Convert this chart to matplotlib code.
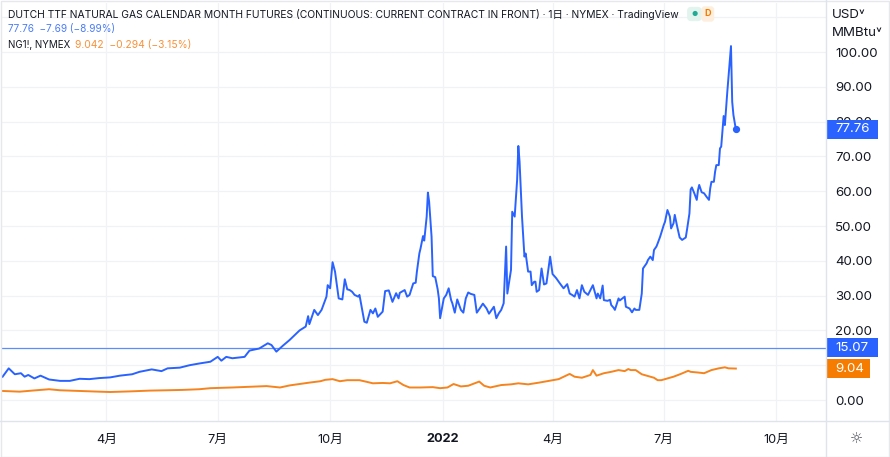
import matplotlib
matplotlib.use("Agg")
import matplotlib.pyplot as plt
import matplotlib.transforms as mtransforms
from matplotlib.patches import Rectangle
from matplotlib.lines import Line2D
import pandas as pd

FAM = ['Inter', 'Noto Sans CJK JP', 'DejaVu Sans']
plt.rcParams['font.family'] = FAM

# ---------------- data ----------------
ttf_dates = [
    "2021-01-06", "2021-01-11", "2021-01-16", "2021-01-21", "2021-01-24", "2021-01-27", "2021-02-01",
    "2021-02-06", "2021-02-13", "2021-02-22", "2021-03-02", "2021-03-10", "2021-03-18", "2021-03-26",
    "2021-04-04", "2021-04-12", "2021-04-22", "2021-04-28", "2021-05-08", "2021-05-16", "2021-05-21",
    "2021-05-31", "2021-06-08", "2021-06-16", "2021-06-25", "2021-07-01", "2021-07-04", "2021-07-08",
    "2021-07-13", "2021-07-23", "2021-07-27", "2021-08-04", "2021-08-11", "2021-08-14", "2021-08-18",
    "2021-08-23", "2021-08-29", "2021-09-06", "2021-09-11", "2021-09-13", "2021-09-14", "2021-09-18",
    "2021-09-21", "2021-09-24", "2021-09-28", "2021-09-29", "2021-10-01", "2021-10-03", "2021-10-05",
    "2021-10-08", "2021-10-11", "2021-10-13", "2021-10-15", "2021-10-17", "2021-10-19", "2021-10-21",
    "2021-10-24", "2021-10-25", "2021-10-29", "2021-10-31", "2021-11-03", "2021-11-05", "2021-11-07",
    "2021-11-09", "2021-11-13", "2021-11-15", "2021-11-18", "2021-11-21", "2021-11-24", "2021-11-26",
    "2021-11-27", "2021-12-01", "2021-12-03", "2021-12-05", "2021-12-08", "2021-12-10", "2021-12-11",
    "2021-12-13", "2021-12-14", "2021-12-16", "2021-12-17", "2021-12-19", "2021-12-20", "2021-12-21",
    "2021-12-23", "2021-12-24", "2021-12-26", "2021-12-28", "2021-12-29", "2021-12-30", "2022-01-02",
    "2022-01-04", "2022-01-06", "2022-01-08", "2022-01-09", "2022-01-11", "2022-01-13", "2022-01-16",
    "2022-01-18", "2022-01-20", "2022-01-22", "2022-01-24", "2022-01-27", "2022-01-29", "2022-01-31",
    "2022-02-03", "2022-02-06", "2022-02-08", "2022-02-12", "2022-02-14", "2022-02-16", "2022-02-18",
    "2022-02-20", "2022-02-22", "2022-02-23", "2022-02-26", "2022-02-27", "2022-03-01", "2022-03-03",
    "2022-03-04", "2022-03-05", "2022-03-07", "2022-03-09", "2022-03-10", "2022-03-12", "2022-03-14",
    "2022-03-15", "2022-03-17", "2022-03-18", "2022-03-19", "2022-03-21", "2022-03-23", "2022-03-25",
    "2022-03-27", "2022-03-30", "2022-04-01", "2022-04-04", "2022-04-07", "2022-04-10", "2022-04-13",
    "2022-04-15", "2022-04-17", "2022-04-19", "2022-04-21", "2022-04-23", "2022-04-25", "2022-04-27",
    "2022-04-30", "2022-05-04", "2022-05-07", "2022-05-08", "2022-05-10", "2022-05-12", "2022-05-13",
    "2022-05-16", "2022-05-18", "2022-05-19", "2022-05-21", "2022-05-22", "2022-05-25", "2022-05-26",
    "2022-05-30", "2022-05-31", "2022-06-03", "2022-06-05", "2022-06-07", "2022-06-08", "2022-06-11",
    "2022-06-13", "2022-06-14", "2022-06-17", "2022-06-18", "2022-06-20", "2022-06-22", "2022-06-23",
    "2022-06-25", "2022-06-26", "2022-06-28", "2022-07-01", "2022-07-02", "2022-07-04", "2022-07-06",
    "2022-07-07", "2022-07-09", "2022-07-10", "2022-07-12", "2022-07-14", "2022-07-16", "2022-07-19",
    "2022-07-20", "2022-07-22", "2022-07-23", "2022-07-24", "2022-07-26", "2022-07-28", "2022-07-29",
    "2022-07-30", "2022-08-01", "2022-08-03", "2022-08-05", "2022-08-07", "2022-08-08", "2022-08-09",
    "2022-08-11", "2022-08-12", "2022-08-13", "2022-08-15", "2022-08-16", "2022-08-17", "2022-08-19",
    "2022-08-20", "2022-08-22", "2022-08-25", "2022-08-26", "2022-08-27", "2022-08-29",
]
ttf_values = [
    6.7, 9.1, 7.4, 7.7, 6.7, 7.2, 6.2,
    7.0, 5.9, 5.5, 5.5, 6.1, 6.0, 6.3,
    6.5, 7.0, 7.4, 8.1, 8.8, 8.3, 9.1,
    9.3, 10.0, 10.5, 11.0, 12.4, 11.3, 12.4,
    12.0, 12.4, 14.2, 14.8, 16.3, 15.8, 13.9,
    15.5, 17.3, 20.0, 21.1, 24.1, 21.8, 25.9,
    24.4, 25.9, 29.7, 33.0, 32.1, 39.6, 36.9,
    29.2, 28.9, 34.7, 31.8, 31.6, 31.1, 30.2,
    29.7, 30.2, 22.5, 22.2, 25.9, 24.9, 26.3,
    23.9, 25.4, 31.3, 31.5, 28.2, 30.7, 29.2,
    30.8, 31.6, 29.7, 30.2, 33.5, 33.7, 36.9,
    42.1, 43.6, 47.1, 45.8, 52.7, 59.6, 57.0,
    46.9, 35.6, 35.3, 31.8, 29.2, 23.5, 29.2,
    30.2, 32.1, 28.7, 27.8, 25.1, 28.9, 25.9,
    25.1, 29.2, 30.9, 30.5, 30.2, 25.1, 26.1,
    27.7, 26.3, 24.8, 26.8, 23.5, 24.9, 25.9,
    27.8, 44.1, 30.6, 37.4, 54.1, 52.7, 63.2,
    73.0, 68.5, 52.7, 41.2, 42.1, 36.9, 36.9,
    33.0, 34.0, 34.0, 31.1, 31.6, 37.8, 33.2,
    33.5, 41.2, 36.2, 35.0, 33.5, 32.1, 33.3,
    30.6, 30.2, 29.7, 31.6, 29.2, 33.0, 31.1,
    30.2, 33.0, 29.2, 30.6, 29.2, 32.9, 28.7,
    28.5, 28.8, 27.3, 26.5, 25.9, 29.2, 28.6,
    29.7, 26.8, 26.3, 25.2, 26.3, 25.9, 25.9,
    30.6, 37.8, 39.3, 40.2, 41.2, 40.2, 43.1,
    44.1, 45.0, 46.9, 50.3, 51.2, 54.6, 52.7,
    49.3, 50.8, 53.2, 49.8, 46.7, 46.0, 46.7,
    48.9, 53.6, 60.5, 61.1, 59.4, 57.5, 60.3,
    61.8, 59.7, 59.4, 58.4, 57.5, 60.8, 62.7,
    62.7, 65.6, 67.5, 67.5, 72.3, 72.8, 81.6,
    79.0, 88.6, 101.7, 85.7, 81.9, 77.76,
]

ng_dates = [
    "2021-01-06", "2021-01-20", "2021-01-30", "2021-02-13", "2021-02-22", "2021-03-10", "2021-03-26",
    "2021-04-04", "2021-04-22", "2021-05-06", "2021-05-20", "2021-06-02", "2021-06-16", "2021-06-25",
    "2021-07-13", "2021-07-27", "2021-08-10", "2021-08-21", "2021-08-29", "2021-09-06", "2021-09-14",
    "2021-09-23", "2021-09-27", "2021-10-03", "2021-10-09", "2021-10-15", "2021-10-25", "2021-10-30",
    "2021-11-05", "2021-11-13", "2021-11-19", "2021-11-25", "2021-11-30", "2021-12-05", "2021-12-14",
    "2021-12-24", "2021-12-30", "2022-01-05", "2022-01-10", "2022-01-16", "2022-01-22", "2022-01-31",
    "2022-02-04", "2022-02-09", "2022-02-18", "2022-02-26", "2022-03-04", "2022-03-12", "2022-03-21",
    "2022-03-29", "2022-04-06", "2022-04-15", "2022-04-19", "2022-04-25", "2022-05-02", "2022-05-04",
    "2022-05-07", "2022-05-13", "2022-05-19", "2022-05-25", "2022-05-30", "2022-06-02", "2022-06-04",
    "2022-06-08", "2022-06-13", "2022-06-18", "2022-06-23", "2022-06-26", "2022-06-29", "2022-07-04",
    "2022-07-09", "2022-07-15", "2022-07-21", "2022-07-23", "2022-07-29", "2022-08-03", "2022-08-09",
    "2022-08-15", "2022-08-20", "2022-08-23", "2022-08-29",
]
ng_values = [
    2.6, 2.4, 2.7, 3.1, 2.8, 2.6, 2.4,
    2.3, 2.5, 2.7, 2.8, 2.9, 3.1, 3.4,
    3.6, 3.8, 4.0, 3.6, 4.2, 4.6, 5.0,
    5.4, 5.8, 6.0, 5.4, 5.7, 5.7, 5.3,
    4.8, 4.9, 4.8, 5.4, 4.3, 3.6, 3.6,
    3.7, 3.4, 3.6, 4.6, 3.9, 4.1, 5.3,
    4.1, 3.6, 4.3, 4.5, 4.8, 4.5, 5.0,
    5.5, 6.0, 7.5, 6.7, 6.4, 7.2, 8.6,
    7.0, 7.7, 8.1, 8.6, 8.3, 8.9, 8.6,
    8.6, 7.4, 6.9, 6.4, 5.7, 5.7, 6.2,
    6.7, 7.5, 8.4, 8.1, 7.9, 7.7, 8.6,
    9.1, 9.4, 9.1, 9.04,
]

ref_line_value = 15.07
ttf_last, ng_last = 77.76, 9.04
y_ticks = [0, 10, 20, 30, 40, 50, 60, 70, 80, 90, 100]
hidden_y_labels = [10]          # fully covered by the price labels in the reference
x_tick_dates = ["2021-04-01", "2021-07-01", "2021-10-01", "2022-01-01", "2022-04-01", "2022-07-01", "2022-10-01"]
x_tick_labels = ["4月", "7月", "10月", "2022", "4月", "7月", "10月"]
view_start, view_end = "2021-01-05 12:00", "2022-11-10 18:00"

title = "DUTCH TTF NATURAL GAS CALENDAR MONTH FUTURES (CONTINUOUS: CURRENT CONTRACT IN FRONT) · 1日 · NYMEX · TradingView"
ttf_legend = "77.76  −7.69 (−8.99%)"
ng_name = "NG1!, NYMEX"
ng_legend = "9.042  −0.294 (−3.15%)"

BLUE = '#2962ff'
ORANGE = '#f5841f'
TXT = '#131722'
GRID = '#f0f2f6'
SEP = '#e0e3eb'

# ---------------- figure ----------------
W, H = 890, 457
fig = plt.figure(figsize=(W / 100, H / 100), dpi=100)
fig.patch.set_facecolor('white')

def fx(p):
    return p / W

def fy(p):
    return 1 - p / H

L, R, T, B = 2, 826, 3, 421
ax = fig.add_axes([fx(L), fy(B), (R - L) / W, (B - T) / H])
ax.set_facecolor('white')

td = pd.to_datetime(ttf_dates)
nd = pd.to_datetime(ng_dates)

YMIN, YMAX = -6.03, 114.08
ax.set_xlim(pd.Timestamp(view_start), pd.Timestamp(view_end))
ax.set_ylim(YMIN, YMAX)

ax.set_yticks(y_ticks)
ax.set_yticks([110], minor=True)
ax.set_yticklabels(["" if v in hidden_y_labels else f"{v:.2f}" for v in y_ticks])
ax.yaxis.tick_right()
ax.tick_params(axis='y', which='both', length=0, pad=6.5, labelsize=9.6, labelcolor=TXT)

ax.set_xticks(pd.to_datetime(x_tick_dates))
ax.set_xticklabels(x_tick_labels)
ax.tick_params(axis='x', length=0, pad=9, labelsize=9.2, labelcolor=TXT)
for lab in ax.get_xticklabels():
    if lab.get_text() == "2022":
        lab.set_fontweight('bold')

ax.grid(True, which='both', color=GRID, lw=0.9)
ax.set_axisbelow(True)
for s in ax.spines.values():
    s.set_visible(False)

# reference line
ax.axhline(ref_line_value, color='#5b8dfb', lw=0.9, zorder=2)

ax.plot(td, ttf_values, color=BLUE, lw=1.4, zorder=4, solid_joinstyle='round')
ax.plot(nd, ng_values, color=ORANGE, lw=1.4, zorder=3, solid_joinstyle='round')
ax.plot(td[-1:], ttf_values[-1:], 'o', color=BLUE, ms=4.2, zorder=5)

# price labels on the right scale
trans = mtransforms.blended_transform_factory(ax.transAxes, ax.transData)
px_per_unit = (B - T) / (YMAX - YMIN)
box_h = 19.5 / px_per_unit
axw = R - L
for val, text, col, wpx in [(ttf_last, f"{ttf_last:.2f}", BLUE, 52),
                            (ref_line_value, f"{ref_line_value:.2f}", BLUE, 52),
                            (ng_last, f"{ng_last:.2f}", '#f57c00', 44)]:
    ax.add_patch(Rectangle((1.0, val - box_h / 2), wpx / axw, box_h, transform=trans,
                           facecolor=col, edgecolor='none', clip_on=False, zorder=10))
    ax.text(1.0 + 9 / axw, val, text, transform=trans, color='white', fontsize=9.6,
            va='center', ha='left', clip_on=False, zorder=11)

# the 80.00 label is only partly visible above the 77.76 price label
box_top_px = B - (ttf_last + box_h / 2 - YMIN) * px_per_unit
clip_bb = mtransforms.TransformedBbox(
    mtransforms.Bbox([[fx(R), fy(box_top_px)], [1.0, fy(100)]]), fig.transFigure)
for tick in ax.yaxis.get_major_ticks():
    if abs(tick.get_loc() - 80) < 1e-6:
        tick.label2.set_clip_box(clip_bb)
        tick.label2.set_clip_on(True)

# separators and border
fig.add_artist(Line2D([fx(R), fx(R)], [0, 1], color=SEP, lw=1))
fig.add_artist(Line2D([0, 1], [fy(B), fy(B)], color=SEP, lw=1))
fig.add_artist(Rectangle((0.5 / W, 0.5 / H), 1 - 1.5 / W, 1 - 1.5 / H, transform=fig.transFigure,
                         fill=False, edgecolor='#e6e8ee', lw=1))

# unit labels and gear
fig.text(fx(832), fy(15), "USD˅", fontsize=9.6, color=TXT, va='center', ha='left',
         family=['Inter', 'DejaVu Sans'])
fig.text(fx(832), fy(33), "MMBtu˅", fontsize=9.6, color=TXT, va='center', ha='left',
         family=['Inter', 'DejaVu Sans'])
fig.text(fx(856), fy(439), "☼", fontsize=10.5, color='#50535e', va='center', ha='center',
         family=['DejaVu Sans'])

# header / legend
t1 = fig.text(fx(8), fy(14), title, fontsize=7.45, color=TXT, va='center', ha='left')
p1 = ax.annotate("●", xy=(1, 0.5), xycoords=t1, xytext=(9, 0), textcoords='offset points',
                 fontsize=5, color='#22ab94', va='center', ha='left', annotation_clip=False,
                 bbox=dict(boxstyle='round,pad=0.6', fc='#e3f4ee', ec='none'))
p2 = ax.annotate("D", xy=(1, 0.5), xycoords=p1, xytext=(5, 0), textcoords='offset points',
                 fontsize=6.5, color='#f57c00', fontweight='bold', va='center', ha='left',
                 annotation_clip=False,
                 bbox=dict(boxstyle='round,pad=0.35', fc='#fdeedd', ec='none'))
fig.text(fx(8), fy(29), ttf_legend, fontsize=7.2, color='#4c7cf5', va='center', ha='left')
t3 = fig.text(fx(8), fy(45), ng_name, fontsize=7.0, color=TXT, va='center', ha='left')
ax.annotate(ng_legend, xy=(1, 0.5), xycoords=t3, xytext=(3.5, 0), textcoords='offset points',
            fontsize=7.4, color='#f7913a', va='center', ha='left', annotation_clip=False)

fig.savefig("out.png", dpi=100, facecolor='white')
